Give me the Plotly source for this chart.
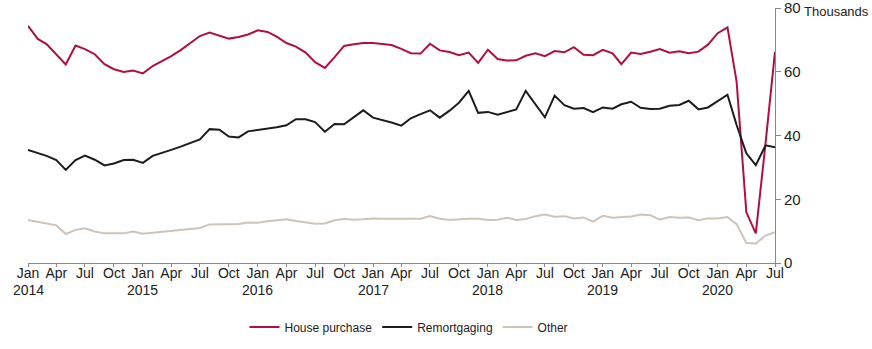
import plotly.graph_objects as go
import pandas as pd

months = pd.date_range("2014-01-01", "2020-07-01", freq="MS")

house_purchase = [
    74.4, 70.3, 68.7, 65.6, 62.3, 68.2, 67.1, 65.5, 62.4, 60.8, 59.9, 60.4,
    59.5, 61.8, 63.2, 64.9, 66.8, 68.9, 71.2, 72.3, 71.3, 70.4, 70.9, 71.7,
    73.0, 72.5, 71.0, 69.0, 67.9, 66.0, 63.0, 61.2, 64.6, 68.1, 68.6, 69.0,
    69.0, 68.8, 68.4, 67.2, 65.8, 65.7, 68.8, 66.7, 66.2, 65.2, 66.0, 62.8,
    66.9, 64.0, 63.5, 63.6, 65.0, 65.8, 64.9, 66.5, 66.1, 67.7, 65.3, 65.2,
    66.9, 65.8, 62.4, 66.0, 65.6, 66.3, 67.1, 66.0, 66.4, 65.8, 66.3, 68.5,
    72.1, 73.9, 56.9, 15.9, 9.3, 37.6, 66.3,
]
remortgaging = [
    35.5, 34.6, 33.6, 32.3, 29.2, 32.3, 33.7, 32.4, 30.6, 31.2, 32.3, 32.4,
    31.4, 33.6, 34.4, 35.5, 36.5, 37.6, 38.8, 42.0, 41.8, 39.7, 39.4, 41.3,
    41.7, 42.1, 42.6, 43.2, 45.1, 45.1, 44.2, 41.2, 43.6, 43.5, 45.7, 47.9,
    45.6, 44.9, 44.1, 43.1, 45.4, 46.7, 47.9, 45.6, 47.8, 50.3, 54.0, 47.1,
    47.4, 46.5, 47.2, 48.2, 54.0, 49.7, 45.7, 52.5, 49.5, 48.4, 48.6, 47.3,
    48.8, 48.4, 49.8, 50.6, 48.7, 48.3, 48.4, 49.3, 49.6, 50.9, 48.2, 48.8,
    50.9, 52.8, 43.3, 34.4, 30.7, 36.9, 36.3,
]
other = [
    13.5, 12.9, 12.3, 11.8, 9.1, 10.4, 10.9, 9.9, 9.3, 9.2, 9.3, 9.9,
    9.2, 9.5, 9.8, 10.1, 10.4, 10.6, 11.0, 12.1, 12.2, 12.3, 12.2, 12.7,
    12.6, 13.1, 13.4, 13.7, 13.2, 12.8, 12.3, 12.4, 13.4, 13.8, 13.6, 13.7,
    14.0, 13.9, 13.9, 14.0, 14.1, 13.9, 14.7, 13.9, 13.5, 13.8, 13.9, 13.9,
    13.5, 13.6, 14.2, 13.5, 13.8, 14.7, 15.2, 14.5, 14.7, 14.0, 14.3, 13.0,
    14.8, 14.2, 14.5, 14.6, 15.2, 15.0, 13.6, 14.4, 14.2, 14.3, 13.4, 14.0,
    14.0, 14.4, 12.2, 6.3, 6.1, 8.6, 9.7,
]

series_names = ["House purchase", "Remortgaging", "Other"]
series_colors = ["#b0103f", "#1c1c1c", "#cdc3b9"]

tick_dates = pd.date_range("2014-01-01", "2020-07-01", freq="QS")
month_abbr = {1: "Jan", 4: "Apr", 7: "Jul", 10: "Oct"}
tick_text = [month_abbr[d.month] for d in tick_dates]
year_dates = pd.date_range("2014-01-01", "2020-01-01", freq="YS")
year_labels = [str(d.year) for d in year_dates]

fig = go.Figure()
for name, vals, col in zip(series_names, [house_purchase, remortgaging, other], series_colors):
    fig.add_trace(go.Scatter(x=months, y=vals, mode="lines", name=name,
                             line=dict(color=col, width=2)))

font_family = "Liberation Sans, Arial, sans-serif"
annotations = [dict(text="Thousands", xref="paper", yref="y", x=1, y=80,
                    xanchor="left", yanchor="middle", xshift=27, yshift=-3,
                    showarrow=False, font=dict(size=13, color="#222"))]
for d, lab in zip(year_dates, year_labels):
    annotations.append(dict(text=lab, xref="x", yref="paper", x=d, y=-0.106,
                            xanchor="center", yanchor="middle", showarrow=False,
                            font=dict(size=14, color="#222")))

fig.update_layout(
    width=872, height=349,
    margin=dict(l=28, r=97, t=8, b=86, autoexpand=False),
    plot_bgcolor="white", paper_bgcolor="white",
    font=dict(family=font_family, size=14, color="#222"),
    showlegend=True,
    legend=dict(orientation="h", x=0.51, xanchor="center", y=-0.251, yanchor="middle",
                font=dict(size=12, color="#222"), itemwidth=30, tracegroupgap=0),
    xaxis=dict(
        range=[months[0], months[-1]],
        tickmode="array", tickvals=tick_dates, ticktext=tick_text,
        tickangle=0, ticklabelstandoff=-6, automargin=False,
        ticks="outside", ticklen=3, tickcolor="#888", tickwidth=1,
        showline=True, linecolor="#888", linewidth=1,
        showgrid=False, zeroline=False,
        tickfont=dict(size=14, color="#222"),
    ),
    yaxis=dict(
        range=[0, 80], side="right", tickvals=[0, 20, 40, 60, 80],
        ticklabeloverflow="allow", automargin=False,
        ticks="outside", ticklen=5, tickcolor="#888", tickwidth=1,
        showline=True, linecolor="#888", linewidth=1,
        showgrid=False, zeroline=False,
        tickfont=dict(size=15, color="#222"),
    ),
    annotations=annotations,
)

fig.write_html("out.html")
